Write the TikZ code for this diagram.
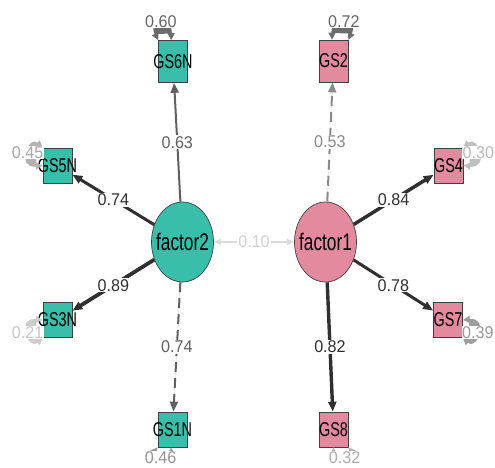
\documentclass[tikz,border=0pt]{standalone}
\usepackage{fontspec}
\setmainfont{Liberation Sans}
\usetikzlibrary{arrows.meta,shapes.geometric,calc}

\definecolor{tealfill}{HTML}{3ABEAC}
\definecolor{pinkfill}{HTML}{E48A9E}
\definecolor{outline}{HTML}{404040}
\definecolor{strong}{HTML}{303030}
\definecolor{mid}{HTML}{606060}
\definecolor{soft}{HTML}{8A8A8A}
\definecolor{faint}{HTML}{DADADA}

% horizontally condensed node text, allowed to overflow its shape
\newcommand{\sqz}[1]{\makebox[0pt]{\scalebox{0.72}[1]{#1}}}
\newcommand{\numtxt}[1]{\scalebox{0.95}[1]{#1}}

\begin{document}
\begin{tikzpicture}[x=1pt,y=-1pt,
  obsbox/.style={draw=outline, line width=0.7pt, minimum width=29pt,
    minimum height=35pt, inner sep=0pt, font=\fontsize{20}{20}\selectfont},
  tallbox/.style={obsbox, minimum height=42pt},
  latent/.style={ellipse, draw=outline, line width=0.7pt, minimum width=62pt,
    minimum height=80pt, inner sep=0pt, font=\fontsize{24}{24}\selectfont},
  load/.style={-{Triangle[length=10pt,width=8pt]}},
  elbl/.style={fill=white, inner sep=1pt, font=\fontsize{17}{17}\selectfont},
  resid/.style={{Triangle[length=7pt,width=7pt]}-{Triangle[length=7pt,width=7pt]},
    line width=1.3pt},
  rlbl/.style={fill=white, inner sep=0.5pt, font=\fontsize{17}{17}\selectfont},
  dashline/.style={dash pattern=on 10pt off 6pt}
]
\useasboundingbox (0,0) rectangle (495,467);

% latent factors
\node[latent, fill=tealfill] (factor2) at (182.5,242) {\sqz{factor2}};
\node[latent, fill=pinkfill] (factor1) at (325.5,242) {\sqz{factor1}};

% indicators of factor2
\node[tallbox, fill=tealfill] (GS6N) at (173,61.5) {\sqz{GS6N}};
\node[obsbox, fill=tealfill] (GS5N) at (57.5,165.5) {\sqz{GS5N}};
\node[obsbox, fill=tealfill] (GS3N) at (57.5,320) {\sqz{GS3N}};
\node[obsbox, fill=tealfill] (GS1N) at (172.5,429.5) {\sqz{GS1N}};

% indicators of factor1
\node[tallbox, fill=pinkfill] (GS2) at (333.5,61) {\sqz{GS2}};
\node[obsbox, fill=pinkfill] (GS4) at (448.5,165.5) {\sqz{GS4}};
\node[obsbox, fill=pinkfill] (GS7) at (448,320) {\sqz{GS7}};
\node[obsbox, fill=pinkfill] (GS8) at (333.5,429.5) {\sqz{GS8}};

% factor loadings
\draw[load, draw=mid, fill=mid, line width=2pt] (factor2) -- node[elbl, text=mid] {\numtxt{0.63}} (GS6N);
\draw[load, draw=strong, fill=strong, line width=3pt] (factor2) -- node[elbl, text=strong] {\numtxt{0.74}} (GS5N);
\draw[load, draw=strong, fill=strong, line width=3.8pt] (factor2) -- node[elbl, text=strong] {\numtxt{0.89}} (GS3N);
\draw[load, draw=mid, fill=mid, line width=2pt, dashline] (factor2) -- node[elbl, text=mid] {\numtxt{0.74}} (GS1N);

\draw[load, draw=soft, fill=soft, line width=2pt, dashline] (factor1) -- node[elbl, text=soft] {\numtxt{0.53}} (GS2);
\draw[load, draw=strong, fill=strong, line width=3.5pt] (factor1) -- node[elbl, text=strong] {\numtxt{0.84}} (GS4);
\draw[load, draw=strong, fill=strong, line width=3pt] (factor1) -- node[elbl, text=strong] {\numtxt{0.78}} (GS7);
\draw[load, draw=strong, fill=strong, line width=3.4pt] (factor1) -- node[elbl, text=strong] {\numtxt{0.82}} (GS8);

% factor covariance
\draw[{Triangle[length=7pt,width=6pt]}-{Triangle[length=7pt,width=6pt]}, draw=faint, fill=faint, line width=1.5pt]
  (factor2) -- node[elbl, text=faint!90!gray] {\numtxt{0.10}} (factor1);

% residual variances
\draw[resid, draw=gray!85!black, fill=gray!85!black]
  (GS6N.north west) .. controls +(-10,-22) and +(0,-27) .. ($(GS6N.north west)+(13,0)$)
  node[rlbl, pos=0.5, text=gray!80!black] {\numtxt{0.60}};
\draw[resid, draw=gray!85!black, fill=gray!85!black]
  ($(GS2.north)+(-1.5,0)$) .. controls +(0,-27) and +(10,-22) .. (GS2.north east)
  node[rlbl, pos=0.5, text=gray!80!black] {\numtxt{0.72}};
\draw[resid, draw=black!30, fill=black!30]
  (GS5N.north west) .. controls +(-14,-12) and +(-26,2) .. (GS5N.west)
  node[rlbl, pos=0.5, text=black!35] {\numtxt{0.45}};
\draw[resid, draw=black!25, fill=black!25]
  (GS4.north east) .. controls +(14,-12) and +(26,2) .. (GS4.east)
  node[rlbl, pos=0.5, text=black!28] {\numtxt{0.30}};
\draw[resid, draw=black!20, fill=black!20]
  (GS3N.west) .. controls +(-26,-2) and +(-14,12) .. (GS3N.south west)
  node[rlbl, pos=0.5, text=black!22] {\numtxt{0.21}};
\draw[resid, draw=black!38, fill=black!38]
  (GS7.east) .. controls +(26,-2) and +(14,12) .. (GS7.south east)
  node[rlbl, pos=0.5, text=black!40] {\numtxt{0.39}};
\draw[resid, draw=black!40, fill=black!40]
  (GS1N.south west) .. controls +(-10,12) and +(0,15) .. ($(GS1N.south)+(-1.5,0)$)
  node[rlbl, pos=0.5, text=black!42] {\numtxt{0.46}};
\draw[resid, draw=black!30, fill=black!30]
  (GS8.south) .. controls +(0,15) and +(10,12) .. (GS8.south east)
  node[rlbl, pos=0.5, text=black!32] {\numtxt{0.32}};
\end{tikzpicture}
\end{document}
